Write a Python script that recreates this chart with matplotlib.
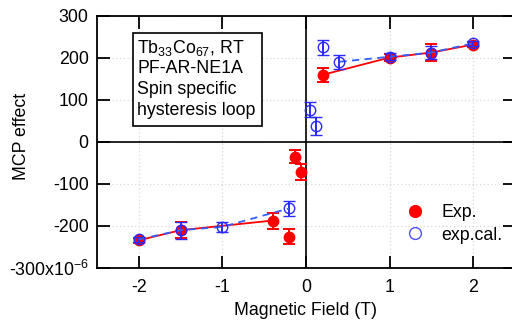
import matplotlib
matplotlib.use("Agg")
import matplotlib.pyplot as plt
from matplotlib.ticker import FuncFormatter
from matplotlib.patches import Rectangle

plt.rcParams['font.family'] = ['Liberation Sans', 'DejaVu Sans']
plt.rcParams['mathtext.fontset'] = 'custom'
plt.rcParams['mathtext.rm'] = 'Liberation Sans'
plt.rcParams['mathtext.it'] = 'Liberation Sans:italic'
plt.rcParams['axes.unicode_minus'] = False

# Exp. (red filled) — connected branches
exp_neg_x = [-2.0, -1.5, -0.4]
exp_neg_y = [-234, -210, -187]
exp_neg_e = [6, 19, 19]
exp_pos_x = [0.2, 1.0, 1.5, 2.0]
exp_pos_y = [160, 201, 213, 232]
exp_pos_e = [17, 9, 20, 6]
# Exp. isolated points near zero
exp_iso_x = [-0.2, -0.13, -0.06]
exp_iso_y = [-225, -35, -72]
exp_iso_e = [19, 16, 19]

# exp.cal. (blue open) — connected branches
cal_neg_x = [-2.0, -1.5, -1.0, -0.2]
cal_neg_y = [-232, -210, -202, -158]
cal_neg_e = [6, 20, 12, 17]
cal_pos_x = [0.4, 1.0, 1.5, 2.0]
cal_pos_y = [191, 203, 213, 235]
cal_pos_e = [16, 8, 16, 6]
# exp.cal. isolated points near zero
cal_iso_x = [0.05, 0.12, 0.2]
cal_iso_y = [77, 38, 225]
cal_iso_e = [18, 21, 17]

xticks = [-2, -1, 0, 1, 2]
yticks = [-300, -200, -100, 0, 100, 200, 300]

RED = '#ff0000'
BLUE = '#2a2aff'
BLUE_LINE = '#3060ff'
FS = 12.8

fig = plt.figure(figsize=(5.12, 3.2), dpi=100)
ax = fig.add_axes([97/512, 52/320, 418/512, 252/320])
ax.set_xlim(-2.5, 2.5)
ax.set_ylim(-300, 300)

ax.grid(True, color='#d8d8d8', linestyle=(0, (1, 2)), linewidth=0.9)
ax.set_axisbelow(True)
ax.axhline(0, color='black', lw=1.2, zorder=1.5)
ax.axvline(0, color='black', lw=1.2, zorder=1.5)

ebkw = dict(elinewidth=1.4, capsize=4, capthick=1.4)
MS = 7.5
# red
ax.errorbar(exp_neg_x, exp_neg_y, yerr=exp_neg_e, fmt='o', color=RED, ms=MS, ls='-', lw=1.3, ecolor=RED, zorder=3, **ebkw)
ax.errorbar(exp_pos_x, exp_pos_y, yerr=exp_pos_e, fmt='o', color=RED, ms=MS, ls='-', lw=1.3, ecolor=RED, zorder=3, **ebkw)
ax.errorbar(exp_iso_x, exp_iso_y, yerr=exp_iso_e, fmt='o', color=RED, ms=MS, ls='none', ecolor=RED, zorder=3, **ebkw)
# blue
ax.errorbar(cal_neg_x, cal_neg_y, yerr=cal_neg_e, fmt='o', mfc='none', mec=BLUE, mew=1.0, ms=MS, color=BLUE_LINE, ls=(0, (4, 3)), lw=1.3, ecolor=BLUE, zorder=4, **ebkw)
ax.errorbar(cal_pos_x, cal_pos_y, yerr=cal_pos_e, fmt='o', mfc='none', mec=BLUE, mew=1.0, ms=MS, color=BLUE_LINE, ls=(0, (4, 3)), lw=1.3, ecolor=BLUE, zorder=4, **ebkw)
ax.errorbar(cal_iso_x, cal_iso_y, yerr=cal_iso_e, fmt='o', mfc='none', mec=BLUE, mew=1.0, ms=MS, ls='none', ecolor=BLUE, zorder=4, **ebkw)

# legend
h1, = ax.plot([], [], 'o', color=RED, ms=8.5, ls='none')
h2, = ax.plot([], [], 'o', mfc='none', mec='#5050ff', mew=1.0, ms=8.5, ls='none')
ax.legend([h1, h2], ['Exp.', 'exp.cal.'], loc='center left', bbox_to_anchor=(0.718, 0.175),
          frameon=False, fontsize=FS, handlelength=1.0, handletextpad=1.0, labelspacing=0.3,
          borderpad=0)

ax.set_xticks(xticks)
ax.set_yticks(yticks)
ax.xaxis.set_major_formatter(FuncFormatter(lambda v, p: '%d' % v))
def yfmt(v, p):
    if v == -300:
        return '-300x10$^{-6}$'
    return '%d' % v
ax.yaxis.set_major_formatter(FuncFormatter(yfmt))
ax.tick_params(direction='in', length=9, width=1.3, labelsize=FS, top=True, right=True)
ax.tick_params(axis='x', pad=8)
ax.tick_params(axis='y', pad=6)
for s in ax.spines.values():
    s.set_linewidth(1.3)

ax.set_xlabel('Magnetic Field (T)', fontsize=FS)
ax.xaxis.set_label_coords(0.5, -0.135)
ax.set_ylabel('MCP effect', fontsize=FS)
ax.yaxis.set_label_coords(-0.16, 0.522)

# annotation box
ax.add_patch(Rectangle((0.086, 0.563), 0.309, 0.37, transform=ax.transAxes,
                       facecolor='white', edgecolor='black', lw=1.2, zorder=5))
lines = [r'Tb$_{33}$Co$_{67}$, RT', 'PF-AR-NE1A', 'Spin specific', 'hysteresis loop']
ys = [0.873, 0.792, 0.708, 0.625]
for t, yy in zip(lines, ys):
    ax.text(0.096, yy, t, transform=ax.transAxes, fontsize=FS, va='center', ha='left', zorder=6)

fig.savefig('out.png', dpi=100)
